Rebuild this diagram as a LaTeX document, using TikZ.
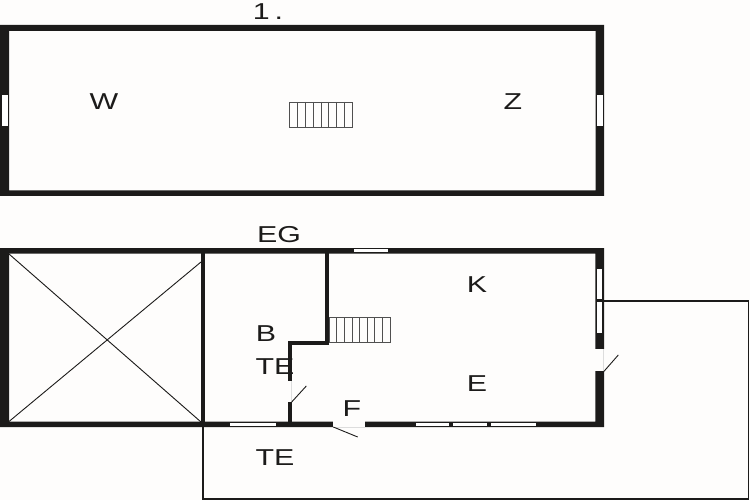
\documentclass[tikz,border=0pt]{standalone}
\usepackage{fontspec}
\setmainfont{Liberation Sans}
\definecolor{paper}{HTML}{FEFDFC}
\definecolor{wallc}{HTML}{1C1B1A}
\definecolor{stairc}{HTML}{505050}
\definecolor{ghost}{HTML}{DDDDDD}
\tikzset{
  wall/.style={fill=wallc,draw=none},
  win/.style={fill=white,draw=none},
  gapfill/.style={fill=paper,draw=none},
  thin line/.style={draw=wallc,line width=0.9pt},
  outline/.style={draw=wallc,line width=1.7pt},
  tread/.style={draw=stairc,line width=0.9pt},
  ghostline/.style={draw=ghost,line width=0.7pt},
  lab/.style={font=\fontsize{23}{23}\selectfont,text=wallc,inner sep=0pt,anchor=base,xscale=1.32}
}
\begin{document}
\begin{tikzpicture}[x=1pt,y=-1pt]
\useasboundingbox (0,0) rectangle (750,500);
\fill[paper] (0,0) rectangle (750,500);
% upper floor walls
\fill[wall,even odd rule] (0,25) rectangle (604,196) (9,31) rectangle (595.5,190.5);
\fill[win] (2,95) rectangle (7.5,126);
\fill[win] (597,95) rectangle (603,126);
% upper stairs
\draw[tread] (289.5,102) rectangle (352.5,127.3);
\foreach \i in {1,...,7} \draw[tread] ({289.5+\i*63/8},102) -- ({289.5+\i*63/8},127.3);
% terrace outline
\draw[outline] (203,427) -- (203,499) -- (748.5,499) -- (748.5,300.7) -- (596,300.7);
% ground floor walls
\fill[wall,even odd rule] (0,248) rectangle (604,427) (9,253.7) rectangle (595.4,421.7);
\fill[wall] (201.3,250) rectangle (205.3,425);
\fill[wall] (325,250) rectangle (329.3,343);
\fill[wall] (287.7,340.7) rectangle (329.3,344.5);
\fill[wall] (287.7,340.7) rectangle (292,381);
\fill[wall] (287.7,402) rectangle (292,425);
% crossed void
\draw[thin line] (9,254) -- (201,422);
\draw[thin line] (9,421.5) -- (201,262);
% lower stairs
\draw[tread] (329.3,317.3) rectangle (390,342);
\foreach \i in {1,...,7} \draw[tread] ({329.3+\i*60.7/8},317.3) -- ({329.3+\i*60.7/8},342);
% windows
\fill[win] (354,249.3) rectangle (388,252.3);
\fill[win] (229.7,422.9) rectangle (276,426.2);
\fill[win] (415.7,422.9) rectangle (449.3,426.2);
\fill[win] (453,422.9) rectangle (486.7,426.2);
\fill[win] (490.7,422.9) rectangle (536,426.2);
\fill[win] (597,268.7) rectangle (602.3,299.3);
\fill[win] (597,302.3) rectangle (602.3,332.7);
% door openings
\fill[gapfill] (594,349.3) rectangle (605,371.3);
\fill[gapfill] (333.3,421) rectangle (365,428);
\draw[ghostline] (291,381) -- (291,402);
\draw[ghostline] (333.3,427) -- (365,427);
\draw[ghostline] (603.6,349.3) -- (603.6,371.3);
% door leaves
\draw[thin line] (291.7,402) -- (306.3,386);
\draw[thin line] (333.3,427) -- (357.7,437);
\draw[thin line] (604,371.3) -- (618.3,355);
% labels
\node[lab] (floorone) at (268,20) {1\,.};
\node[lab] (groundfloor) at (279,242) {EG};
\node[lab] (roomw) at (104,110) {W};
\node[lab] (roomz) at (513,110) {Z};
\node[lab] (roomk) at (477,292) {K};
\node[lab] (roome) at (477,391) {E};
\node[lab] (roomb) at (266,341) {B};
\node[lab] (roomte) at (275,374) {TE};
\node[lab] (roomf) at (352,416) {F};
\node[lab] (terrace) at (275,465) {TE};
\end{tikzpicture}
\end{document}
